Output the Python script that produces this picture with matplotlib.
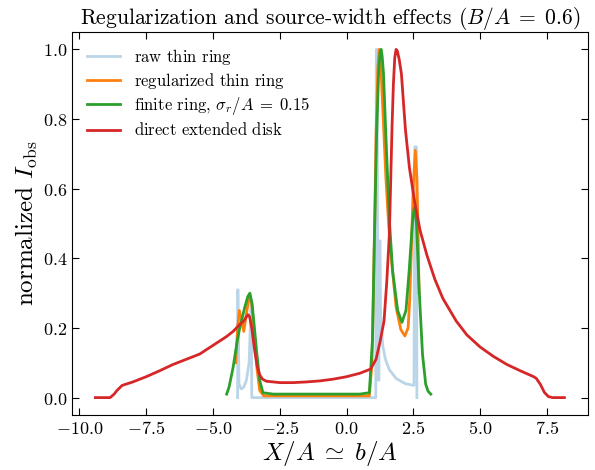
import matplotlib
matplotlib.use("Agg")
import matplotlib.pyplot as plt
from matplotlib.ticker import FuncFormatter

plt.rcParams['mathtext.fontset'] = 'cm'

# raw thin ring (caustic spikes)
raw_x = [-4.08, -4.07, -4.03, -3.95, -3.85, -3.75, -3.65, -3.57, -3.55,
         -2.0, 0.0, 1.09, 1.11, 1.14, 1.17, 1.21, 1.22, 1.25, 1.27, 1.35,
         1.45, 1.6, 1.85, 2.2, 2.52, 2.55, 2.61, 2.63]
raw_y = [0.0, 0.31, 0.04, 0.025, 0.03, 0.05, 0.10, 0.28, 0.0,
         0.0, 0.0, 0.0, 1.0, 1.0, 0.05, 0.05, 0.45, 0.45, 0.24, 0.15,
         0.11, 0.08, 0.055, 0.04, 0.035, 0.72, 0.72, 0.0]

# regularized thin ring
reg_x = [-4.15, -4.08, -4.02, -3.95, -3.85, -3.75, -3.65, -3.55, -3.45,
         -3.35, -3.25, -3.1, -2.0, 0.0, 0.85, 0.95, 1.0, 1.05, 1.1, 1.17,
         1.22, 1.3, 1.4, 1.47, 1.57, 1.66, 1.85, 2.03, 2.18, 2.3, 2.36,
         2.42, 2.49, 2.57, 2.63, 2.68, 2.71]
reg_y = [0.10, 0.20, 0.25, 0.23, 0.19, 0.24, 0.29, 0.27, 0.18,
         0.08, 0.02, 0.005, 0.005, 0.005, 0.005, 0.10, 0.30, 0.50, 0.75, 0.95,
         1.0, 0.92, 0.75, 0.63, 0.50, 0.41, 0.26, 0.195, 0.177, 0.20, 0.28,
         0.42, 0.60, 0.71, 0.63, 0.45, 0.30]

# finite ring, sigma_r/A = 0.15
fin_x = [-4.49, -4.4, -4.25, -4.1, -4.0, -3.81, -3.7, -3.62, -3.54, -3.45,
         -3.37, -3.25, -3.13, -2.75, -1.0, 0.48, 0.85, 0.97, 1.04, 1.12,
         1.2, 1.25, 1.29, 1.33, 1.38, 1.47, 1.6, 1.72, 1.91, 2.07, 2.22,
         2.34, 2.46, 2.52, 2.55, 2.58, 2.62, 2.71, 2.84, 2.96, 3.05, 3.15]
fin_y = [0.01, 0.03, 0.086, 0.16, 0.20, 0.26, 0.29, 0.30, 0.27, 0.20,
         0.134, 0.048, 0.014, 0.01, 0.01, 0.01, 0.014, 0.17, 0.46, 0.75,
         0.94, 0.99, 1.0, 0.98, 0.93, 0.75, 0.51, 0.364, 0.25, 0.216, 0.25,
         0.364, 0.50, 0.54, 0.546, 0.535, 0.49, 0.316, 0.124, 0.038, 0.018, 0.01]

# direct extended disk
disk_x = [-9.4, -8.85, -8.7, -8.6, -8.4, -8.0, -7.5, -7.0, -6.5, -6.0,
          -5.5, -5.0, -4.5, -4.25, -4.0, -3.85, -3.75, -3.69, -3.63, -3.55,
          -3.45, -3.35, -3.25, -3.15, -3.0, -2.5, -2.0, -1.5, -1.0, -0.5, 0.0,
          0.5, 0.9, 1.1, 1.25, 1.4, 1.5, 1.6, 1.7, 1.75, 1.8, 1.85, 1.9,
          1.97, 2.05, 2.2, 2.35, 2.55, 2.75, 3.0, 3.3, 3.6, 4.1, 4.5, 5.0,
          5.5, 6.0, 6.5, 7.0, 7.1, 7.25, 7.4, 7.55, 7.7, 8.15]
disk_y = [0.0, 0.0, 0.01, 0.02, 0.035, 0.045, 0.06, 0.077, 0.095, 0.11,
          0.125, 0.15, 0.175, 0.19, 0.21, 0.22, 0.232, 0.238, 0.232, 0.2,
          0.14, 0.09, 0.065, 0.053, 0.047, 0.043, 0.043, 0.045, 0.048, 0.053, 0.06,
          0.07, 0.082, 0.11, 0.16, 0.22, 0.33, 0.47, 0.78, 0.9, 0.975, 1.0, 0.995,
          0.97, 0.93, 0.77, 0.66, 0.56, 0.48, 0.41, 0.34, 0.285, 0.22, 0.18, 0.145,
          0.118, 0.095, 0.077, 0.06, 0.055, 0.038, 0.015, 0.003, 0.0, 0.0]

fig, ax = plt.subplots(figsize=(5.95, 4.70), dpi=100)
fig.subplots_adjust(left=0.121, right=0.988, top=0.932, bottom=0.117)

ax.plot(raw_x, raw_y, color='tab:blue', alpha=0.3, lw=2,
        label=r'$\text{raw thin ring}$')
ax.plot(reg_x, reg_y, color='tab:orange', lw=2,
        label=r'$\text{regularized thin ring}$')
ax.plot(fin_x, fin_y, color='tab:green', lw=2,
        label=r'$\text{finite ring, }\sigma_r/A\;=\;0.15$')
ax.plot(disk_x, disk_y, color='tab:red', lw=2,
        label=r'$\text{direct extended disk}$')

ax.set_xticks([-10.0, -7.5, -5.0, -2.5, 0.0, 2.5, 5.0, 7.5])
ax.set_yticks([0.0, 0.2, 0.4, 0.6, 0.8, 1.0])
fmt = FuncFormatter(lambda v, p: '$%.1f$' % v)
ax.xaxis.set_major_formatter(fmt)
ax.yaxis.set_major_formatter(fmt)
ax.tick_params(direction='in', top=True, right=True, length=5, labelsize=13)

ax.set_xlabel(r'$X/A\;\simeq\;b/A$', fontsize=18, labelpad=1)
ax.set_ylabel(r'$\text{normalized }I_{\rm obs}$', fontsize=18, labelpad=2)
ax.set_title(r'$\text{Regularization and source-width effects }(B/A\;=\;0.6)$', fontsize=15.5)
ax.legend(loc='upper left', frameon=False, fontsize=12, labelspacing=0.25)

fig.savefig('out.png')
